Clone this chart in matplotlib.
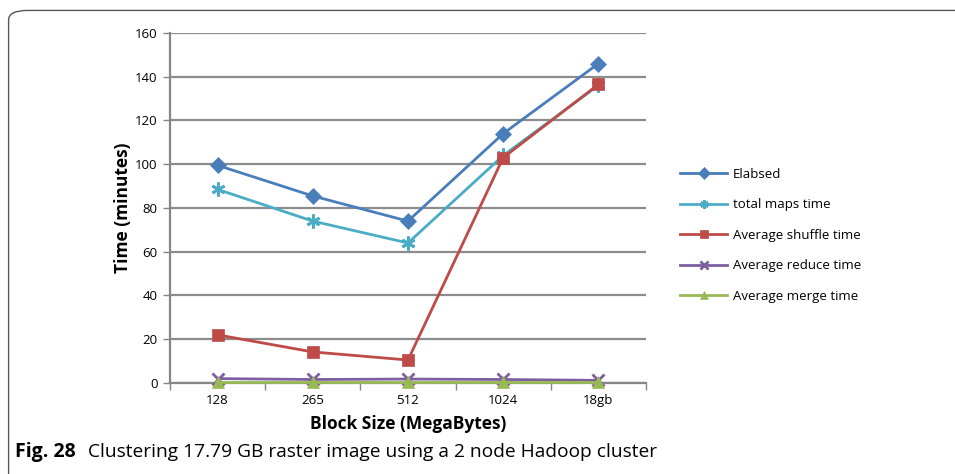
import matplotlib.pyplot as plt
from matplotlib.patches import FancyBboxPatch

# Run times (minutes) for each HDFS block size
block_sizes = ['128', '265', '512', '1024', '18gb']
elabsed = [99.5, 85.5, 74, 114, 146]
total_maps = [88.5, 74, 64, 104, 136]
avg_shuffle = [22, 14.2, 10.5, 103, 136.5]
avg_reduce = [2, 1.6, 1.8, 1.6, 1.2]
avg_merge = [0.3, 0.3, 0.3, 0.3, 0.3]

series = [
    ('Elabsed', elabsed, '#4a7ebb', 'D', 8),
    ('total maps time', total_maps, '#4bacc6', (6, 2, 0), 10),
    ('Average shuffle time', avg_shuffle, '#be4b48', 's', 9),
    ('Average reduce time', avg_reduce, '#7d5fa0', 'x', 8),
    ('Average merge time', avg_merge, '#98b954', '^', 9),
]

plt.rcParams['font.family'] = ['Open Sans', 'DejaVu Sans']

fig = plt.figure(figsize=(9.55, 4.74), dpi=100)
ax = fig.add_axes([0.178, 0.192, 0.4984, 0.7384])

x = list(range(len(block_sizes)))
for name, values, color, marker, size in series:
    ax.plot(x, values, color=color, lw=2, marker=marker, markersize=size,
            markeredgewidth=2 if marker in ('x', (6, 2, 0)) else 0.5,
            markeredgecolor=color, label=name, clip_on=False, zorder=3)

ax.set_xlim(-0.5, len(block_sizes) - 0.5)
ax.set_ylim(0, 160)
ax.set_yticks(range(0, 161, 20))
ax.set_xticks(x)
ax.set_xticklabels(block_sizes)
ax.set_xticks([i - 0.5 for i in range(len(block_sizes) + 1)], minor=True)
ax.tick_params(axis='x', which='major', length=0, labelsize=9.5, pad=8)
ax.tick_params(axis='x', which='minor', length=5, width=1, color='#868686')
ax.tick_params(axis='y', length=5, width=1, color='#868686', labelsize=9.5, pad=4)

ax.grid(axis='y', color='#8c8c8c', lw=1.6)
ax.set_axisbelow(True)
for side in ('top', 'right'):
    ax.spines[side].set_visible(False)
ax.spines['left'].set_color('#868686')
ax.spines['left'].set_linewidth(1.6)
ax.spines['bottom'].set_color('#868686')
ax.spines['bottom'].set_linewidth(1.6)

ax.set_xlabel('Block Size (MegaBytes)', fontsize=12.5, fontweight='bold', labelpad=6)
ax.set_ylabel('Time (minutes)', fontsize=12.5, fontweight='bold', labelpad=2)

leg = ax.legend(loc='upper left', bbox_to_anchor=(1.06, 0.63), frameon=False,
                fontsize=9.5, handlelength=3.6, labelspacing=1.33,
                handletextpad=0.4, borderaxespad=0)
for h in leg.legend_handles:
    h.set_markersize(6)

# outer frame with rounded corner
frame = FancyBboxPatch((0.009, -0.05), 1.1, 1.028, transform=fig.transFigure,
                       boxstyle='round,pad=0,rounding_size=0.02',
                       fill=False, edgecolor='#555555', lw=1.0, clip_on=False)
fig.patches.append(frame)

fig.text(0.016, 0.035, 'Fig. 28', fontsize=14, fontweight='bold',
         family=['Open Sans', 'DejaVu Sans'], va='baseline')
fig.text(0.092, 0.035, 'Clustering 17.79 GB raster image using a 2 node Hadoop cluster',
         fontsize=13.8, family=['Open Sans', 'DejaVu Sans'], va='baseline')

fig.savefig('out.png', dpi=100)
